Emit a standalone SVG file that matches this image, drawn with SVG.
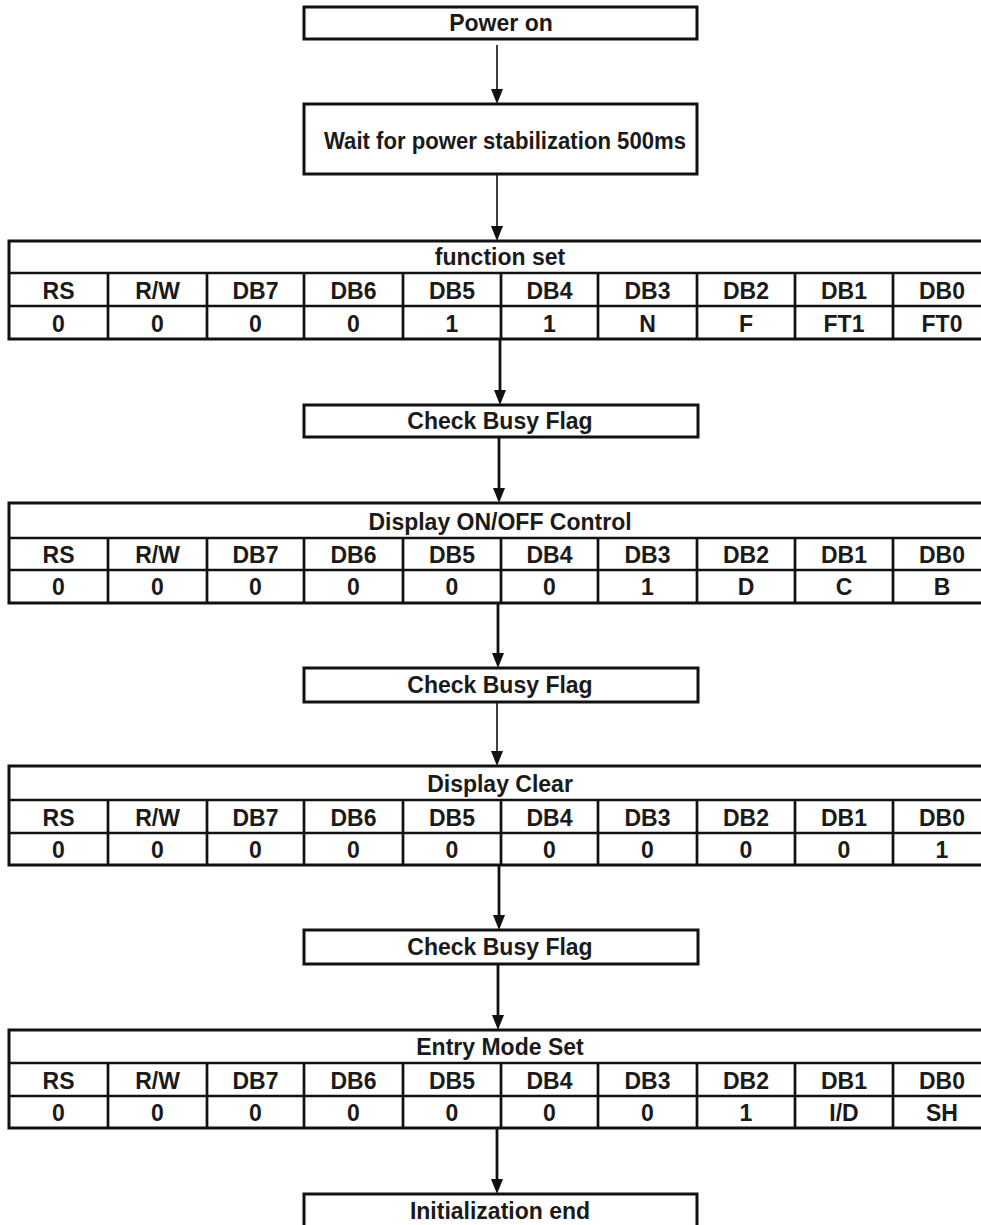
<svg xmlns="http://www.w3.org/2000/svg" width="981" height="1225" viewBox="0 0 981 1225">
<style>
.bg{fill:#fff}
.box{fill:#fff;stroke:#111;stroke-width:3}
.ln{stroke:#111;stroke-width:2.7;fill:none}
.t{font-family:"Liberation Sans",Arial,sans-serif;font-weight:bold;font-size:23px;text-anchor:middle;fill:#1a1a1a}
.c1{stroke:#111;stroke-width:1.6;fill:none}
.c2{stroke:#111;stroke-width:2.8;fill:none}
.ah{fill:#111}
</style>
<rect class="bg" x="0" y="0" width="981" height="1225"/>

<g id="connectors">
  <line class="c1" x1="497" y1="45" x2="497" y2="92"/><polygon class="ah" points="491,89 503,89 497,104"/>
  <line class="c1" x1="497" y1="174" x2="497" y2="229"/><polygon class="ah" points="491,226 503,226 497,241"/>
  <line class="c2" x1="500" y1="339" x2="500" y2="393"/><polygon class="ah" points="494,390 506,390 500,405"/>
  <line class="c2" x1="499" y1="437" x2="499" y2="491"/><polygon class="ah" points="493,488 505,488 499,503"/>
  <line class="c2" x1="498" y1="603" x2="498" y2="656"/><polygon class="ah" points="492,653 504,653 498,668"/>
  <line class="c1" x1="497" y1="702" x2="497" y2="754"/><polygon class="ah" points="491,751 503,751 497,766"/>
  <line class="c2" x1="499" y1="865" x2="499" y2="918"/><polygon class="ah" points="493,915 505,915 499,930"/>
  <line class="c2" x1="498" y1="964" x2="498" y2="1018"/><polygon class="ah" points="492,1015 504,1015 498,1030"/>
  <line class="c2" x1="497" y1="1128" x2="497" y2="1182"/><polygon class="ah" points="491,1179 503,1179 497,1194"/>
</g>

<g id="power-on">
  <rect class="box" x="304" y="7" width="393" height="32"/>
  <text class="t" x="501" y="31">Power on</text>
</g>

<g id="wait">
  <rect class="box" x="304" y="104" width="393" height="70"/>
  <text class="t" x="505" y="149" textLength="362" lengthAdjust="spacingAndGlyphs">Wait for power stabilization 500ms</text>
</g>

<g id="function-set">
  <rect class="box" x="9" y="241" width="982" height="98"/>
  <path class="ln" d="M9 273H991M9 306H991M108 273V339M207 273V339M304 273V339M403 273V339M501 273V339M598 273V339M697 273V339M795 273V339M893 273V339"/>
  <text class="t" x="500" y="265">function set</text>
  <text class="t" y="299"><tspan x="58.5">RS</tspan><tspan x="157.5">R/W</tspan><tspan x="255.5">DB7</tspan><tspan x="353.5">DB6</tspan><tspan x="452">DB5</tspan><tspan x="549.5">DB4</tspan><tspan x="647.5">DB3</tspan><tspan x="746">DB2</tspan><tspan x="844">DB1</tspan><tspan x="942">DB0</tspan></text>
  <text class="t" y="332"><tspan x="58.5">0</tspan><tspan x="157.5">0</tspan><tspan x="255.5">0</tspan><tspan x="353.5">0</tspan><tspan x="452">1</tspan><tspan x="549.5">1</tspan><tspan x="647.5">N</tspan><tspan x="746">F</tspan><tspan x="844">FT1</tspan><tspan x="942">FT0</tspan></text>
</g>

<g id="check-busy-1">
  <rect class="box" x="304" y="405" width="394" height="32"/>
  <text class="t" x="500" y="429">Check Busy Flag</text>
</g>

<g id="display-onoff">
  <rect class="box" x="9" y="503" width="982" height="100"/>
  <path class="ln" d="M9 538H991M9 570H991M108 538V603M207 538V603M304 538V603M403 538V603M501 538V603M598 538V603M697 538V603M795 538V603M893 538V603"/>
  <text class="t" x="500" y="530">Display ON/OFF Control</text>
  <text class="t" y="563"><tspan x="58.5">RS</tspan><tspan x="157.5">R/W</tspan><tspan x="255.5">DB7</tspan><tspan x="353.5">DB6</tspan><tspan x="452">DB5</tspan><tspan x="549.5">DB4</tspan><tspan x="647.5">DB3</tspan><tspan x="746">DB2</tspan><tspan x="844">DB1</tspan><tspan x="942">DB0</tspan></text>
  <text class="t" y="595"><tspan x="58.5">0</tspan><tspan x="157.5">0</tspan><tspan x="255.5">0</tspan><tspan x="353.5">0</tspan><tspan x="452">0</tspan><tspan x="549.5">0</tspan><tspan x="647.5">1</tspan><tspan x="746">D</tspan><tspan x="844">C</tspan><tspan x="942">B</tspan></text>
</g>

<g id="check-busy-2">
  <rect class="box" x="304" y="668" width="394" height="34"/>
  <text class="t" x="500" y="693">Check Busy Flag</text>
</g>

<g id="display-clear">
  <rect class="box" x="9" y="766" width="982" height="99"/>
  <path class="ln" d="M9 800H991M9 833H991M108 800V865M207 800V865M304 800V865M403 800V865M501 800V865M598 800V865M697 800V865M795 800V865M893 800V865"/>
  <text class="t" x="500" y="792">Display Clear</text>
  <text class="t" y="826"><tspan x="58.5">RS</tspan><tspan x="157.5">R/W</tspan><tspan x="255.5">DB7</tspan><tspan x="353.5">DB6</tspan><tspan x="452">DB5</tspan><tspan x="549.5">DB4</tspan><tspan x="647.5">DB3</tspan><tspan x="746">DB2</tspan><tspan x="844">DB1</tspan><tspan x="942">DB0</tspan></text>
  <text class="t" y="858"><tspan x="58.5">0</tspan><tspan x="157.5">0</tspan><tspan x="255.5">0</tspan><tspan x="353.5">0</tspan><tspan x="452">0</tspan><tspan x="549.5">0</tspan><tspan x="647.5">0</tspan><tspan x="746">0</tspan><tspan x="844">0</tspan><tspan x="942">1</tspan></text>
</g>

<g id="check-busy-3">
  <rect class="box" x="304" y="930" width="394" height="34"/>
  <text class="t" x="500" y="955">Check Busy Flag</text>
</g>

<g id="entry-mode-set">
  <rect class="box" x="9" y="1030" width="982" height="98"/>
  <path class="ln" d="M9 1063H991M9 1096H991M108 1063V1128M207 1063V1128M304 1063V1128M403 1063V1128M501 1063V1128M598 1063V1128M697 1063V1128M795 1063V1128M893 1063V1128"/>
  <text class="t" x="500" y="1055">Entry Mode Set</text>
  <text class="t" y="1089"><tspan x="58.5">RS</tspan><tspan x="157.5">R/W</tspan><tspan x="255.5">DB7</tspan><tspan x="353.5">DB6</tspan><tspan x="452">DB5</tspan><tspan x="549.5">DB4</tspan><tspan x="647.5">DB3</tspan><tspan x="746">DB2</tspan><tspan x="844">DB1</tspan><tspan x="942">DB0</tspan></text>
  <text class="t" y="1121"><tspan x="58.5">0</tspan><tspan x="157.5">0</tspan><tspan x="255.5">0</tspan><tspan x="353.5">0</tspan><tspan x="452">0</tspan><tspan x="549.5">0</tspan><tspan x="647.5">0</tspan><tspan x="746">1</tspan><tspan x="844">I/D</tspan><tspan x="942">SH</tspan></text>
</g>

<g id="init-end">
  <rect class="box" x="304" y="1194" width="393" height="40"/>
  <text class="t" x="500" y="1219">Initialization end</text>
</g>
</svg>
